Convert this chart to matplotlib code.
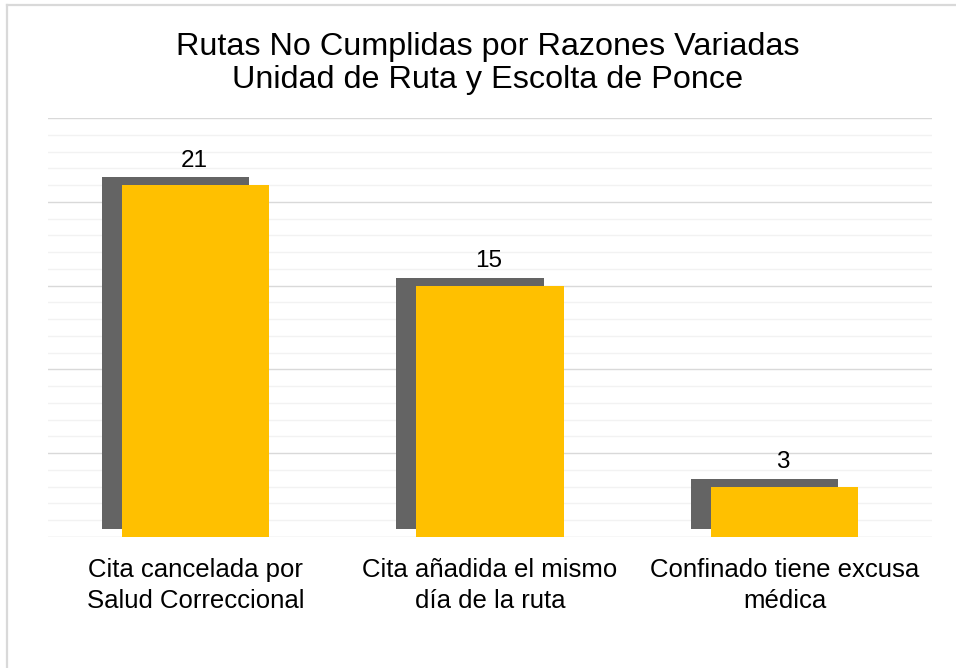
import matplotlib
matplotlib.use('Agg')
import matplotlib.pyplot as plt
import matplotlib.patheffects as pe
from matplotlib.lines import Line2D

plt.rcParams['font.family'] = ['Liberation Sans', 'DejaVu Sans']

categorias = ['Cita cancelada por\nSalud Correccional',
              'Cita añadida el mismo\ndía de la ruta',
              'Confinado tiene excusa\nmédica']
valores = [21, 15, 3]
titulo = ['Rutas No Cumplidas por Razones Variadas',
          'Unidad de Ruta y Escolta de Ponce']

W, H = 956, 668
fig = plt.figure(figsize=(W / 100, H / 100), dpi=100)
ax = fig.add_axes([48 / W, 1 - 537 / H, (932 - 48) / W, (537 - 118) / H])

# borde del grafico (solo arriba e izquierda visibles)
fig.add_artist(Line2D([6.5 / W, 6.5 / W], [0, 1 - 5 / H], transform=fig.transFigure,
                      color='#d9d9d9', lw=1.6))
fig.add_artist(Line2D([6.5 / W, 1], [1 - 5 / H, 1 - 5 / H], transform=fig.transFigure,
                      color='#d9d9d9', lw=1.6))

x = range(len(valores))
sombra = [pe.SimplePatchShadow(offset=(-14.4, 5.5), shadow_rgbFace='#646464', alpha=1.0),
          pe.Normal()]
barras = ax.bar(x, valores, width=0.5, color='#ffc000', zorder=3)
for b in barras:
    b.set_path_effects(sombra)

for i, v in enumerate(valores):
    ax.annotate(str(v), (i, v), xytext=(-1, 13.2), textcoords='offset points',
                ha='center', va='baseline', fontsize=17.5, color='#000000', zorder=4)

ax.set_xlim(-0.5, 2.5)
ax.set_ylim(0, 25)
ax.set_yticks(range(0, 26, 5))
ax.set_yticks(range(0, 26), minor=True)
ax.grid(axis='y', which='major', color='#d9d9d9', lw=1.0, zorder=0)
ax.grid(axis='y', which='minor', color='#f2f2f2', lw=1.0, zorder=0)
ax.tick_params(axis='y', which='both', length=0, labelleft=False)
ax.set_xticks(list(x))
ax.set_xticklabels(categorias, fontsize=18.5, linespacing=1.39)
ax.tick_params(axis='x', length=0, pad=15)
for s in ax.spines.values():
    s.set_visible(False)

fig.text(487.5 / W, 1 - 55 / H, titulo[0], ha='center', va='baseline', fontsize=23.3)
fig.text(487.5 / W, 1 - 88 / H, titulo[1], ha='center', va='baseline', fontsize=23.3)

fig.savefig('out.png', dpi=100)
